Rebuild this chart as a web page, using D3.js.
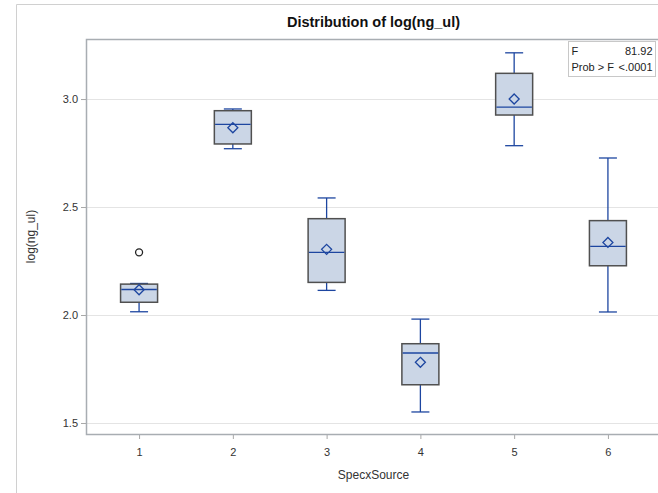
<!DOCTYPE html>
<html>
<head>
<meta charset="utf-8">
<script src="https://cdn.jsdelivr.net/npm/d3@7"></script>
<style>
  body { margin: 0; background: #fff; }
  svg { display: block; }
  text { font-family: Arial, "Liberation Sans", sans-serif; }
</style>
</head>
<body>
<svg class="boxes" width="658" height="493"></svg>
<script>
// values
var groups = [1, 2, 3, 4, 5, 6];
var whiskerLow  = [2.015, 2.770, 2.114, 1.551, 2.784, 2.014];
var q1          = [2.059, 2.792, 2.151, 1.677, 2.926, 2.228];
var medians     = [2.118, 2.883, 2.290, 1.824, 2.963, 2.318];
var q3          = [2.143, 2.946, 2.446, 1.867, 3.119, 2.437];
var whiskerHigh = [2.146, 2.954, 2.542, 1.981, 3.214, 2.727];
var means       = [2.117, 2.867, 2.304, 1.781, 3.000, 2.336];
var outliers    = [{g: 1, v: 2.290}];
var yTicks = [1.5, 2.0, 2.5, 3.0];
var statLabels = ["F", "Prob > F"];
var statValues = ["81.92", "<.0001"];

var svg = d3.select("svg.boxes"),
    margin = {top: 39, right: -3, bottom: 59, left: 86},
    width = +svg.attr("width") - margin.left - margin.right,
    height = +svg.attr("height") - margin.top - margin.bottom;

var boxColor = "#1d46a0",
    fillColor = "#cbd6e6";

// outer frame of the graph image (only left and top edges visible)
svg.append("line").attr("x1", 16.5).attr("y1", 4.5).attr("x2", 16.5).attr("y2", 493)
    .style("stroke", "#d0d0d0");
svg.append("line").attr("x1", 16.5).attr("y1", 4.5).attr("x2", 658).attr("y2", 4.5)
    .style("stroke", "#d0d0d0");

var x = d3.scaleLinear().domain([0.434, 6.566]).range([0, width]),
    y = d3.scaleLinear().domain([1.449, 3.278]).range([height, 0]);

var g = svg.append("g").attr("transform", "translate(" + margin.left + "," + margin.top + ")");

// grid
g.selectAll(".grid")
    .data(yTicks)
    .enter().append("line")
    .attr("class", "grid")
    .attr("x1", 0).attr("x2", width)
    .attr("y1", function(d) { return Math.round(y(d)) + 0.5; })
    .attr("y2", function(d) { return Math.round(y(d)) + 0.5; })
    .style("stroke", "#e4e4e4");

// axes
var yAxis = g.append("g")
    .attr("class", "axis axis--y")
    .call(d3.axisLeft(y).tickValues(yTicks).tickFormat(d3.format(".1f")).tickSize(5).tickSizeOuter(0));
var xAxis = g.append("g")
    .attr("class", "axis axis--x")
    .attr("transform", "translate(0," + height + ")")
    .call(d3.axisBottom(x).tickValues(groups).tickFormat(d3.format("d")).tickSize(5).tickSizeOuter(0));

[yAxis, xAxis].forEach(function(a) {
  a.select(".domain").remove();
  a.selectAll(".tick line").style("stroke", "#a8a8a8");
  a.selectAll(".tick text").style("font-size", "11px").style("fill", "#333");
});
xAxis.selectAll(".tick text").attr("dy", "1.25em");

// plot frame
g.append("rect")
    .attr("x", 0.5).attr("y", 0.5)
    .attr("width", width).attr("height", height)
    .style("fill", "none")
    .style("stroke", "#a8adb2")
    .style("stroke-width", 1.5);

var boxW = 37, capW = 18;

var box = g.selectAll(".box")
    .data(groups)
    .enter().append("g")
    .attr("class", "box")
    .attr("transform", function(d) { return "translate(" + x(d) + ",0)"; });

// whiskers
box.append("line")
    .attr("x1", 0).attr("x2", 0)
    .attr("y1", function(d, i) { return y(whiskerHigh[i]); })
    .attr("y2", function(d, i) { return y(whiskerLow[i]); })
    .style("stroke", boxColor).style("stroke-width", 1.3);
box.append("line")
    .attr("x1", -capW / 2).attr("x2", capW / 2)
    .attr("y1", function(d, i) { return y(whiskerHigh[i]); })
    .attr("y2", function(d, i) { return y(whiskerHigh[i]); })
    .style("stroke", boxColor).style("stroke-width", 1.3);
box.append("line")
    .attr("x1", -capW / 2).attr("x2", capW / 2)
    .attr("y1", function(d, i) { return y(whiskerLow[i]); })
    .attr("y2", function(d, i) { return y(whiskerLow[i]); })
    .style("stroke", boxColor).style("stroke-width", 1.3);

box.append("rect")
    .attr("x", -boxW / 2)
    .attr("y", function(d, i) { return y(q3[i]); })
    .attr("width", boxW)
    .attr("height", function(d, i) { return y(q1[i]) - y(q3[i]); })
    .style("fill", fillColor)
    .style("stroke", "#505050")
    .style("stroke-width", 1.5);

box.append("line")
    .attr("x1", -boxW / 2 + 0.75).attr("x2", boxW / 2 - 0.75)
    .attr("y1", function(d, i) { return y(medians[i]); })
    .attr("y2", function(d, i) { return y(medians[i]); })
    .style("stroke", boxColor).style("stroke-width", 1.3);

// mean diamonds
box.append("path")
    .attr("d", function(d, i) {
      var cy = y(means[i]), r = 5;
      return "M0," + (cy - r) + "L" + r + "," + cy + "L0," + (cy + r) + "L" + (-r) + "," + cy + "Z";
    })
    .style("fill", "none")
    .style("stroke", boxColor)
    .style("stroke-width", 1.3);

// outliers
g.selectAll(".outlier")
    .data(outliers)
    .enter().append("circle")
    .attr("class", "outlier")
    .attr("cx", function(d) { return x(d.g); })
    .attr("cy", function(d) { return y(d.v); })
    .attr("r", 3.5)
    .style("fill", "none")
    .style("stroke", "#222")
    .style("stroke-width", 1.3);

// stats inset
var inset = svg.append("g").attr("transform", "translate(568.5,41.5)");
inset.append("rect")
    .attr("width", 87).attr("height", 35)
    .style("fill", "#fff")
    .style("stroke", "#c8c8c8");
inset.selectAll(".slabel")
    .data(statLabels)
    .enter().append("text")
    .attr("x", 3)
    .attr("y", function(d, i) { return 13 + i * 16; })
    .style("font-size", "11px").style("fill", "#222")
    .text(function(d) { return d; });
inset.selectAll(".svalue")
    .data(statValues)
    .enter().append("text")
    .attr("x", 84)
    .attr("y", function(d, i) { return 13 + i * 16; })
    .attr("text-anchor", "end")
    .style("font-size", "11px").style("fill", "#222")
    .text(function(d) { return d; });

// titles
svg.append("text")
    .attr("x", margin.left + width / 2)
    .attr("y", 27)
    .attr("text-anchor", "middle")
    .style("font-size", "14.5px")
    .style("font-weight", "bold")
    .style("fill", "#111")
    .text("Distribution of log(ng_ul)");

svg.append("text")
    .attr("x", margin.left + width / 2)
    .attr("y", 479)
    .attr("text-anchor", "middle")
    .style("font-size", "12px")
    .style("fill", "#333")
    .text("SpecxSource");

svg.append("text")
    .attr("transform", "translate(35," + (margin.top + height / 2) + ") rotate(-90)")
    .attr("text-anchor", "middle")
    .style("font-size", "12px")
    .style("fill", "#333")
    .text("log(ng_ul)");
</script>
</body>
</html>
